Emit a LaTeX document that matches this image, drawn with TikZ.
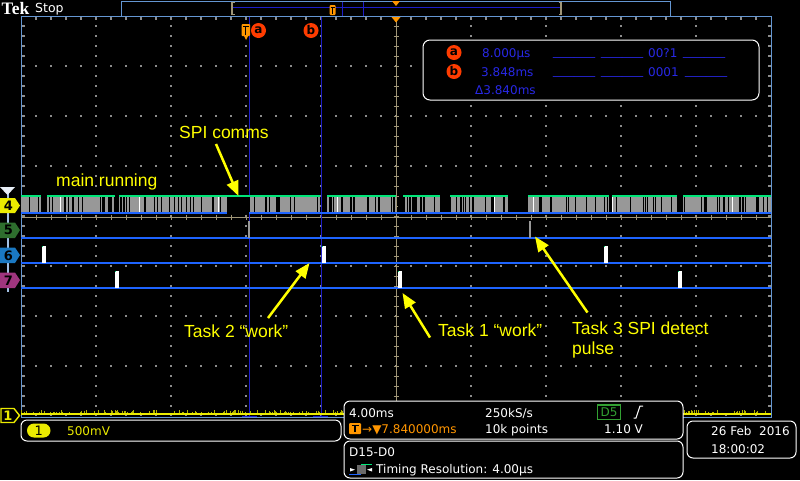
\documentclass[tikz,border=0pt]{standalone}
\usepackage{fontspec}
\setmainfont{DejaVu Sans}
\newfontfamily\annfont{Liberation Sans}
\newfontfamily\tekfont{Liberation Serif}
\usetikzlibrary{arrows.meta}
\definecolor{annyellow}{RGB}{255,255,0}
\definecolor{chyellow}{RGB}{235,235,0}
\definecolor{bordblue}{RGB}{100,150,210}
\definecolor{curblue}{RGB}{30,30,200}
\definecolor{trblue}{RGB}{30,100,255}
\definecolor{tanc}{RGB}{160,150,120}
\definecolor{trgreen}{RGB}{0,230,120}
\definecolor{trgray}{RGB}{152,152,152}
\definecolor{scorange}{RGB}{255,150,0}
\definecolor{scred}{RGB}{255,60,0}
\definecolor{measblue}{RGB}{40,40,230}
\definecolor{dotgray}{RGB}{140,140,140}
\definecolor{dgreen}{RGB}{50,160,50}
\definecolor{tabgreen}{RGB}{46,110,46}
\definecolor{tabblue}{RGB}{26,120,194}
\definecolor{tabmag}{RGB}{160,53,126}
\begin{document}
\begin{tikzpicture}[x=1pt,y=-1pt,
  sc/.style={font=\fontsize{12}{14}\selectfont, inner sep=0pt, anchor=base west},
  ann/.style={font=\annfont\fontsize{17.5}{20}\selectfont, text=annyellow, inner sep=0pt, anchor=base west},
  annarrow/.style={draw=annyellow, line width=2.5pt, -{Triangle[length=15pt,width=12pt]}},
  panel/.style={draw=white, line width=1pt, fill=black, rounded corners=6pt},
  circlab/.style={circle, fill=scred, minimum size=15pt, inner sep=0pt, font=\bfseries\fontsize{12}{12}\selectfont, text=black},
  tabnum/.style={font=\bfseries\fontsize{13}{13}\selectfont, inner sep=0pt, text=black},
  pulse/.style={fill=white},
  lowline/.style={draw=trblue, line width=1.4pt}
]
\useasboundingbox (0,0) rectangle (800,480);
\fill[black] (0,0) rectangle (800,480);

% ---------- grid dots ----------
\foreach \gx in {96,171,246,321,471,546,621,696}
  \foreach \gy in {26,36,...,406}
    \fill[dotgray] (\gx-0.6,\gy-0.6) rectangle ++(1.2,1.2);
\foreach \gy in {66,116,166,266,316,366}
  \foreach \gx in {36,51,...,756}
    \fill[dotgray] (\gx-0.6,\gy-0.6) rectangle ++(1.2,1.2);
% border ticks
\foreach \gy in {26,36,...,406} {
  \fill[dotgray] (22,\gy-0.6) rectangle ++(2.5,1.2);
  \fill[dotgray] (768,\gy-0.6) rectangle ++(2.5,1.2);
}
\foreach \gx in {36,51,...,756} {
  \fill[dotgray] (\gx-0.6,17) rectangle ++(1.2,2.5);
  \fill[dotgray] (\gx-0.6,413.5) rectangle ++(1.2,2.5);
}

% ---------- centre lines (tan) ----------
\draw[tanc, line width=1pt] (21,217) -- (771,217);
\foreach \gx in {36,51,...,756}
  \draw[tanc, line width=0.8pt] (\gx,214.5) -- (\gx,219.5);
\draw[tanc, line width=1pt] (396,16) -- (396,417);
\foreach \gy in {26,36,...,406}
  \draw[tanc, line width=0.8pt] (393.5,\gy) -- (398.5,\gy);

% ---------- cursors ----------
\draw[curblue, line width=1pt] (249,16) -- (249,417);
\draw[curblue, line width=1pt] (321,16) -- (321,417);
\draw[curblue, line width=2pt] (242,417) -- (257,417);
\draw[curblue, line width=2pt] (313,417) -- (328,417);

% ---------- graticule border ----------
\draw[bordblue, line width=1pt] (21,16) rectangle (771,417);

% ---------- record view (top) ----------
\draw[bordblue, line width=1pt, fill=black] (121,1) rectangle (670,16);
\draw[curblue, line width=1pt] (233,7) -- (560,7);
\draw[tanc, line width=1.2pt] (234.5,2.5) -- (232,2.5) -- (232,14.5) -- (234.5,14.5);
\draw[tanc, line width=1.2pt] (558.5,2.5) -- (561,2.5) -- (561,14.5) -- (558.5,14.5);
\draw[curblue, line width=1pt] (342,1.5) -- (342,15.5);
\draw[curblue, line width=1pt] (363,1.5) -- (363,15.5);
\fill[scorange, rounded corners=1pt] (329.5,5) rectangle (335.5,15);
\draw[black, line width=0.8pt] (330.5,7) -- (334.5,7) (332.5,7) -- (332.5,13.5);
\fill[scorange] (392,1) -- (400,1) -- (396,6) -- cycle;
\fill[scorange] (391.5,17) -- (400.5,17) -- (396,22.5) -- cycle;

% ---------- header text ----------
\node[inner sep=0pt, anchor=base west, text=white, font=\tekfont\bfseries\fontsize{17.5}{18}\selectfont] (tek) at (1.5,14) {Tek};
\node[sc, text=white, font=\fontsize{12.5}{14}\selectfont] (stop) at (35,12) {Stop};

% ---------- cursor markers ----------
\fill[scorange, rounded corners=1pt] (241.5,24) rectangle (250,36);
\fill[scorange] (244,36) -- (248,36) -- (246,40) -- cycle;
\draw[black, line width=1pt] (243,26.5) -- (248.5,26.5) (245.8,26.5) -- (245.8,34.5);
\node[circlab] (cura) at (258.5,30.5) {a};
\node[circlab] (curb) at (311,30.5) {b};

% ---------- measurement readout ----------
\draw[panel, rounded corners=7pt] (423,40) rectangle (759,100);
\node[circlab] (mema) at (454,52.5) {a};
\node[circlab] (memb) at (454,71.5) {b};
\node[sc, text=measblue] (vala) at (482,57) {8.000µs};
\node[sc, text=measblue] (valb) at (481,76) {3.848ms};
\node[sc, text=measblue] (vald) at (475,94) {Δ3.840ms};
\foreach \ux/\uy/\nm in {553/55/ua1,601/55/ua2,683/55/ua4,553/74/ub1,601/74/ub2,685/74/ub4}
  \node[sc, text=measblue] (\nm) at (\ux,\uy) {\scalebox{1.75}[1]{\_\_\_\_}};
\node[sc, text=measblue] (bitsa) at (648,57) {00?1};
\node[sc, text=measblue] (bitsb) at (648,76) {0001};

% ---------- channel 4 (bus) ----------
\foreach \a/\b in {21/41,47/115,119/227,249/320,327/396,403/440,450/508,528/609,612/677,683/771}
  \fill[trgray] (\a,196) rectangle (\b,213);
\pgfmathsetseed{12345}
\foreach \i in {1,...,170}{
  \pgfmathsetmacro{\sx}{21+750*rnd}
  \fill[black] (\sx,197.2) rectangle ++(1.1,15.2);
}
\foreach \wx in {60,139,218,337,494,533,612,732}
  \fill[white] (\wx,197) rectangle ++(1.3,16);
\fill[black] (227,197) rectangle (249,213);
\foreach \a/\b in {21/41,47/115,119/320,327/396,403/440,450/508,528/609,612/677,683/771}
  \draw[trgreen, line width=1.3pt] (\a,196) -- (\b,196);
\foreach \a/\b in {21/227,249/771}
  \draw[trblue, line width=1.3pt] (\a,213) -- (\b,213);

% ---------- channels 5,6,7 ----------
\draw[lowline] (21,238) -- (771,238);
\draw[lowline] (21,263) -- (771,263);
\draw[lowline] (21,288) -- (771,288);
\fill[trgray] (248,221) rectangle (250,238);
\fill[trgray] (529,221) rectangle (531,238);
\foreach \px in {42,322,604} {
  \fill[pulse] (\px,246) rectangle ++(4.3,17);
  \fill[trgreen] (\px,246) rectangle ++(1.2,1.2);
}
\foreach \px in {115,398,678} {
  \fill[pulse] (\px,271) rectangle ++(4.3,17);
  \fill[trgreen] (\px,271) rectangle ++(1.2,1.2);
}

% ---------- channel 1 trace ----------
\foreach \i in {1,...,260}{
  \pgfmathsetmacro{\nx}{21+750*rnd}
  \pgfmathsetmacro{\ny}{410+2.5*rnd}
  \draw[chyellow!75!black, line width=0.8pt] (\nx,\ny) -- (\nx,414);
}
\draw[chyellow, line width=2pt] (21,413.8) -- (771,413.8);

% ---------- channel tabs ----------
\draw[bordblue!60!white, line width=2pt] (7.5,190) -- (7.5,292);
\fill[white!85!bordblue] (0,187) -- (15,187) -- (7.5,195) -- cycle;
\fill[chyellow] (0,198) -- (15,198) -- (20,205.5) -- (15,213) -- (0,213) -- cycle;
\node[tabnum] (t4) at (8.5,205.5) {4};
\fill[tabgreen] (0,222.5) -- (15,222.5) -- (20,230) -- (15,238) -- (0,238) -- cycle;
\node[tabnum] (t5) at (8.5,230.3) {5};
\fill[tabblue] (0,247.5) -- (15,247.5) -- (20,255) -- (15,263) -- (0,263) -- cycle;
\node[tabnum] (t6) at (8.5,255.3) {6};
\fill[tabmag] (0,272.5) -- (15,272.5) -- (20,280) -- (15,288) -- (0,288) -- cycle;
\node[tabnum] (t7) at (8.5,280.3) {7};
\draw[chyellow, line width=1.4pt, fill=black] (1,408.5) -- (14,408.5) -- (19.5,415.5) -- (14,422.5) -- (1,422.5) -- cycle;
\node[tabnum, text=chyellow] (t1) at (8,415.7) {1};

% ---------- bottom panels ----------
\draw[panel] (21,420) rectangle (341,441);
\fill[chyellow, rounded corners=7pt] (27,423.5) rectangle (50.5,437.5);
\node[tabnum, font=\fontsize{13}{13}\selectfont] (ch1badge) at (38.8,430.5) {1};
\node[sc, text=chyellow] (volts) at (67,435) {500mV};

\draw[panel] (344,401) rectangle (683,439);
\node[sc, text=white] (tdiv) at (349,417) {4.00ms};
\node[sc, text=white] (srate) at (485,417) {250kS/s};
\draw[dgreen, line width=1.2pt] (597.5,405) rectangle (620.5,419.5);
\node[sc, text=dgreen, anchor=center] (d5) at (609,412.3) {D5};
\draw[white, line width=1pt] (633.5,418) -- (636,418) -- (640,406) -- (643,406);
\fill[scorange, rounded corners=1pt] (349,423) rectangle (361,434);
\draw[black, line width=1.2pt] (351.5,425.8) -- (358.5,425.8) (355,425.8) -- (355,432);
\node[sc, text=scorange] (tpos) at (362,433) {→▼7.840000ms};
\node[sc, text=white] (rlen) at (485,433) {10k points};
\node[sc, text=white] (tlev) at (604,433) {1.10 V};

\draw[panel] (344,441) rectangle (683,478);
\node[sc, text=white] (dbus) at (349,456) {D15-D0};
\fill[trgray!70!black] (357,465) rectangle (366,474);
\draw[trgreen, line width=1pt] (361,464) -- (372,464);
\draw[trblue, line width=1pt] (349,474.5) -- (361,474.5);
\fill[white] (350,468) -- (350,471.5) -- (355,469.7) -- cycle;
\fill[white] (372,468) -- (372,471.5) -- (367,469.7) -- cycle;
\node[sc, text=white] (tres) at (376,473) {Timing Resolution: 4.00µs};

\draw[panel] (687,421) rectangle (796,458);
\node[sc, text=white] (date) at (711,435) {26 Feb\ \ 2016};
\node[sc, text=white] (time) at (711,453) {18:00:02};

% ---------- annotations ----------
\node[ann] (mainrun) at (56,186) {main running};
\node[ann] (spilab) at (179,138) {SPI comms};
\node[ann] (task2) at (184,337.5) {Task 2 “work”};
\node[ann] (task1) at (438,336) {Task 1 “work”};
\node[ann, align=left, anchor=north west] (task3) at (572,322) {Task 3 SPI detect\\pulse};

\coordinate (spitail) at (216,144);
\coordinate (spitip) at (238.5,196);
\coordinate (t2tail) at (268,318);
\coordinate (t2tip) at (309.5,263);
\coordinate (t1tail) at (430,337.5);
\coordinate (t1tip) at (402.5,293);
\coordinate (t3tail) at (587.5,312.5);
\coordinate (t3tip) at (535,236.5);
\draw[annarrow] (spitail) -- (spitip);
\draw[annarrow] (t2tail) -- (t2tip);
\draw[annarrow] (t1tail) -- (t1tip);
\draw[annarrow] (t3tail) -- (t3tip);
\end{tikzpicture}
\end{document}
